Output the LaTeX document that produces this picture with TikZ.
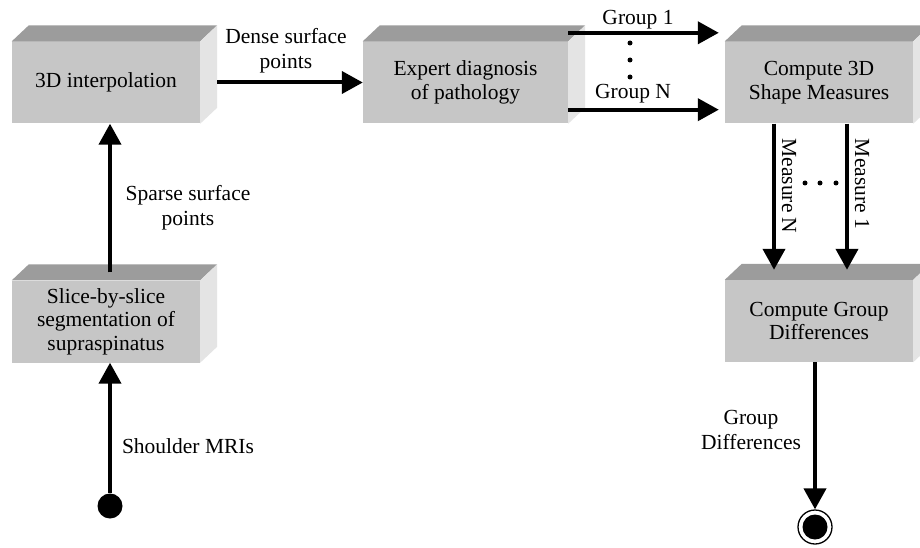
\documentclass[tikz,border=0pt]{standalone}
\usepackage{fontspec}
\setmainfont{Liberation Serif}
\usetikzlibrary{arrows.meta,calc}
\definecolor{frontgray}{RGB}{198,198,198}
\definecolor{topgray}{RGB}{156,156,156}
\definecolor{sidegray}{RGB}{228,228,228}
\tikzset{
  boxface/.style={rectangle, fill=frontgray, inner sep=0pt, align=center,
    minimum height=82pt, font=\fontsize{21.5}{23.5}\selectfont},
  flow/.style={line width=4pt, -{Triangle[length=21pt,width=22pt]}},
  lbl/.style={align=center, inner sep=0pt, font=\fontsize{21.5}{25}\selectfont},
  dotmark/.style={circle, fill=black, inner sep=0pt, minimum size=5pt},
}
\newcommand\cubefaces[1]{%
  \fill[topgray] (#1.north west) -- ++(17,-16) -- ($(#1.north east)+(17,-16)$) -- (#1.north east) -- cycle;
  \fill[sidegray] (#1.north east) -- ++(17,-16) -- ($(#1.south east)+(17,-16)$) -- (#1.south east) -- cycle;
}
\begin{document}
\begin{tikzpicture}[x=1pt,y=-1pt]
\useasboundingbox (0,0) rectangle (920,548);
\fill[white] (0,0) rectangle (920,548);
% boxes
\node[boxface, minimum width=188pt] (interp) at (106,82.5) {3D interpolation};
\node[boxface, minimum width=205pt] (expert) at (465.5,82.5) {Expert diagnosis\\of pathology};
\node[boxface, minimum width=188pt] (shape) at (819,82.5) {Compute 3D\\Shape Measures};
\node[boxface, minimum width=188pt] (diff) at (819,321) {Compute Group\\Differences};
\node[boxface, minimum width=188pt] (slice) at (106,321.5) {Slice-by-slice\\segmentation of\\supraspinatus};
\cubefaces{interp}
\cubefaces{expert}
\cubefaces{shape}
\cubefaces{diff}
\cubefaces{slice}
% start / end
\node[circle, fill=black, inner sep=0pt, minimum size=25pt] (start) at (110,506) {};
\node[circle, draw=black, line width=1.3pt, inner sep=0pt, minimum size=34pt] (end) at (815,527) {};
\node[circle, fill=black, inner sep=0pt, minimum size=25pt] (endcore) at (end.center) {};
% connectors
\draw[flow] (start) -- ($(slice.south)+(4,0)$);
\draw[flow] ($(slice.north)+(4,-8)$) -- ($(interp.south)+(4,0)$);
\draw[flow] ($(interp.east)+(17,0)$) -- (expert.west);
\draw[flow] ($(expert.north east)+(0,-8.5)$) -- ($(shape.north west)+(-6,-8.5)$);
\draw[flow] ($(expert.south east)+(0,-14)$) -- ($(shape.south west)+(-6,-14)$);
\draw[flow] ($(shape.south)+(-45,0)$) -- ($(diff.north)+(-45,-10)$);
\draw[flow] ($(shape.south)+(28,0)$) -- ($(diff.north)+(28,-10)$);
\draw[flow] ($(diff.south)+(-4,0)$) -- (end.north);
% labels
\node[lbl] (lshoulder) at (188,446) {Shoulder MRIs};
\node[lbl] (lsparse) at (188,208) {Sparse surface\\points};
\node[lbl] (ldense) at (286,51) {Dense surface\\points};
\node[lbl] (lg1) at (638,20) {Group 1};
\node[lbl] (lgN) at (633,94) {Group N};
\node[lbl, rotate=-90] (lmN) at (789,186) {Measure N};
\node[lbl, rotate=-90] (lm1) at (862,184) {Measure 1};
\node[lbl] (lgd) at (751,430) {Group\\Differences};
% dots
\node[dotmark] (d1) at (630,43) {};
\node[dotmark] (d2) at (630,60) {};
\node[dotmark] (d3) at (630,77) {};
\node[dotmark] (d4) at (805,183) {};
\node[dotmark] (d5) at (820,183) {};
\node[dotmark] (d6) at (836,183) {};
\end{tikzpicture}
\end{document}
